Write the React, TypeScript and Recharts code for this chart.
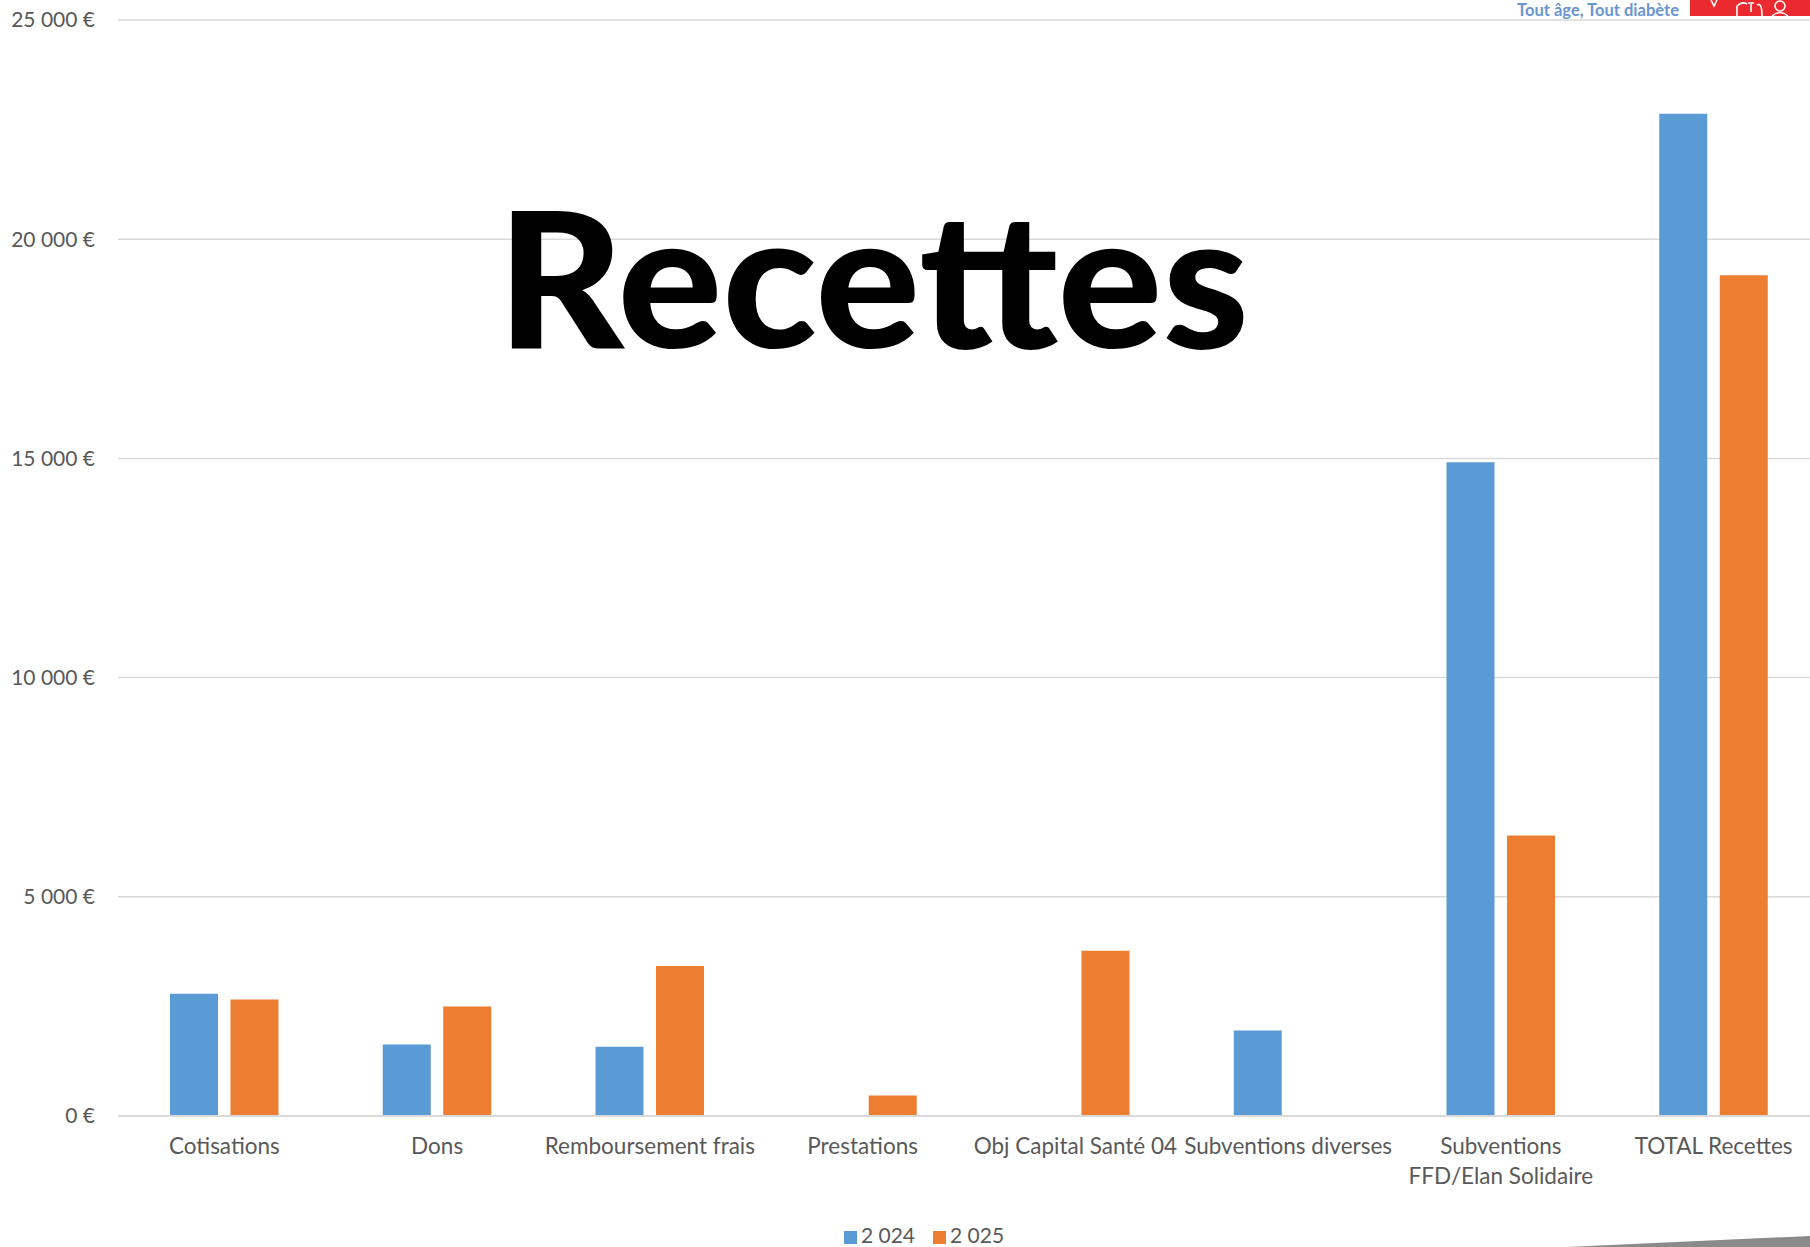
import { BarChart, Bar, XAxis, YAxis, CartesianGrid, Legend } from "recharts";

const CATEGORIES = [
  "Cotisations",
  "Dons",
  "Remboursement frais",
  "Prestations",
  "Obj Capital Santé 04",
  "Subventions diverses",
  "Subventions\nFFD/Elan Solidaire",
  "TOTAL Recettes",
];
const VALUES_2024 = [2790, 1630, 1580, 0, 0, 1950, 14910, 22860];
const VALUES_2025 = [2660, 2500, 3420, 470, 3770, 0, 6400, 19180];
const Y_TICKS = [0, 5000, 10000, 15000, 20000, 25000];

const data = CATEGORIES.map((name, i) => ({
  name,
  y2024: VALUES_2024[i],
  y2025: VALUES_2025[i],
}));

const FONT = "Lato, 'Open Sans', sans-serif";
const TEXT = "#595959";

const euro = (v: number) =>
  `${v.toString().replace(/\B(?=(\d{3})+(?!\d))/g, " ")} €`;

// category labels can break on "\n"
const CategoryTick = (props: any) => {
  const { x, y, payload } = props;
  const lines = String(payload.value).split("\n");
  return (
    <g>
      {lines.map((line: string, i: number) => (
        <text
          key={i}
          x={x}
          y={y + 29 + i * 30}
          textAnchor="middle"
          dominantBaseline="central"
          fill={TEXT}
          fontSize={22.5}
          fontFamily={FONT}
        >
          {line}
        </text>
      ))}
    </g>
  );
};

export default function App() {
  return (
    <div
      style={{
        position: "absolute",
        left: 0,
        top: 0,
        width: 1810,
        height: 1247,
        overflow: "hidden",
        background: "#fff",
      }}
    >
      <BarChart
        width={1820}
        height={1247}
        data={data}
        margin={{ top: 20, right: 0, left: 0, bottom: 0 }}
        barSize={48}
        barGap={12.5}
      >
        <CartesianGrid vertical={false} stroke="#d9d9d9" strokeWidth={1.5} />
        <XAxis
          dataKey="name"
          interval={0}
          height={99}
          tickLine={false}
          tickSize={0}
          tickMargin={0}
          axisLine={{ stroke: "#d9d9d9", strokeWidth: 2 }}
          tick={<CategoryTick />}
        />
        <YAxis
          width={118}
          domain={[0, 25000]}
          ticks={Y_TICKS}
          tickFormatter={euro}
          axisLine={false}
          tickLine={false}
          tickSize={0}
          tickMargin={23}
          tick={{ fill: TEXT, fontSize: 21, fontFamily: FONT }}
        />
        <Legend
          verticalAlign="bottom"
          height={32}
          iconType="square"
          iconSize={13}
          wrapperStyle={{ left: 32, width: 1794, bottom: -7, fontSize: 21, fontFamily: FONT }}
          formatter={(value, _entry, index) => (
            <span style={{ color: TEXT, marginRight: index === 0 ? 8 : 0 }}>{value}</span>
          )}
        />
        <Bar dataKey="y2024" name="2 024" fill="#5b9bd5" isAnimationActive={false} />
        <Bar dataKey="y2025" name="2 025" fill="#ed7d31" isAnimationActive={false} />
      </BarChart>

      <svg
        width={1810}
        height={1247}
        style={{ position: "absolute", left: 0, top: 0, pointerEvents: "none" }}
      >
        <text
          x={873}
          y={348}
          textAnchor="middle"
          fontFamily={FONT}
          fontWeight={900}
          fontSize={188}
          fill="#000"
          textLength={752}
          lengthAdjust="spacingAndGlyphs"
        >
          Recettes
        </text>
        <text
          x={1517}
          y={16}
          fontFamily={FONT}
          fontWeight={700}
          fontSize={16.5}
          fill="#6a95cf"
          textLength={162}
          lengthAdjust="spacingAndGlyphs"
        >
          Tout âge, Tout diabète
        </text>
        <rect x={1690} y={0} width={120} height={16} fill="#ea2a2f" />
        <g stroke="#fff" strokeWidth={1.6} fill="none">
          <path d="M1711,0 L1714,6 L1717,0" />
          <path d="M1737,16 L1737,6 Q1742,1 1747,4" />
          <path d="M1751,4 L1751,12 M1748,3 L1754,3" />
          <path d="M1757,5 Q1762,2 1762,16" />
          <circle cx={1780} cy={6} r={5} />
          <path d="M1772,16 Q1780,9 1788,16" />
        </g>
        <polygon points="1567,1247 1810,1236 1810,1247" fill="#8a8a8a" />
      </svg>
    </div>
  );
}
